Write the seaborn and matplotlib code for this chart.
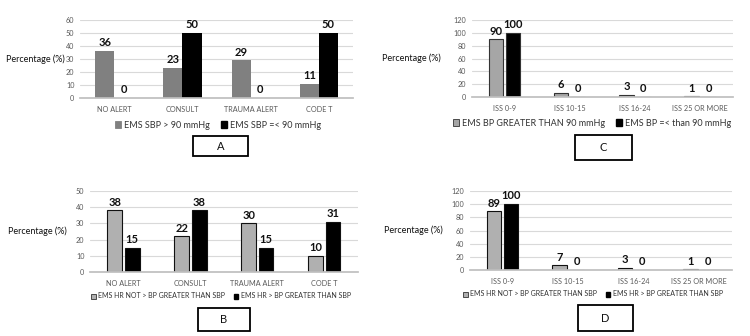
import matplotlib
matplotlib.use('Agg')
import matplotlib.pyplot as plt
from matplotlib.patches import Rectangle, Patch
import seaborn as sns
import pandas as pd

# panel A / B categories
alert_cats = ['NO ALERT', 'CONSULT', 'TRAUMA ALERT', 'CODE T']
# panel C / D categories
iss_cats = ['ISS 0-9', 'ISS 10-15', 'ISS 16-24', 'ISS 25 OR MORE']

a_high = [36, 23, 29, 11]
a_low = [0, 50, 0, 50]
a_names = ['EMS SBP > 90 mmHg', 'EMS SBP =< 90 mmHg']

c_high = [90, 6, 3, 1]
c_low = [100, 0, 0, 0]
c_names = ['EMS BP GREATER THAN 90 mmHg', 'EMS BP =< than 90 mmHg']

b_not = [38, 22, 30, 10]
b_yes = [15, 38, 15, 31]
b_names = ['EMS HR NOT > BP GREATER THAN SBP', 'EMS HR > BP GREATER THAN SBP']

d_not = [89, 7, 3, 1]
d_yes = [100, 0, 0, 0]
d_names = ['EMS HR NOT > BP GREATER THAN SBP', 'EMS HR > BP GREATER THAN SBP']

sns.set_theme(style='white')
plt.rcParams['font.family'] = ['Lato', 'DejaVu Sans']


def make_df(cats, s1, s2, names):
    return pd.DataFrame({
        'cat': cats * 2,
        'val': s1 + s2,
        'grp': [names[0]] * len(cats) + [names[1]] * len(cats),
    })


def panel(fig, rect, cats, s1, s2, names, ymax, step, gray, edge, lw,
          width, gap, ylab_x, leg_xy, leg_fs, box, letter):
    ax = fig.add_axes(rect)
    df = make_df(cats, s1, s2, names)
    sns.barplot(data=df, x='cat', y='val', hue='grp', order=cats,
                hue_order=names, palette=[gray, '#000000'], width=width,
                gap=gap, edgecolor=edge, linewidth=lw, legend=False, ax=ax)
    for cont in ax.containers:
        ax.bar_label(cont, fmt='%d', padding=2, fontsize=8,
                     fontweight='bold', color='#111111')
    ax.set_ylim(0, ymax)
    ax.set_yticks(range(0, ymax + 1, step))
    ax.yaxis.grid(True, color='#d9d9d9', linewidth=0.8)
    ax.set_axisbelow(True)
    for s in ['top', 'right', 'left']:
        ax.spines[s].set_visible(False)
    ax.spines['bottom'].set_color('#bfbfbf')
    ax.tick_params(axis='both', length=0, labelsize=5.2, colors='#595959')
    ax.tick_params(axis='x', pad=6)
    ax.tick_params(axis='y', pad=4)
    ax.set_xlabel('')
    ax.set_ylabel('Percentage (%)', rotation=0, ha='right', va='center',
                  fontsize=6.5, color='#111111')
    ax.yaxis.set_label_coords(ylab_x, 0.5)
    handles = [Patch(facecolor=gray, edgecolor='#333333' if edge != 'none' else gray, linewidth=0.6),
               Patch(facecolor='#000000', edgecolor='#000000')]
    fig.legend(handles, names, loc='center', bbox_to_anchor=leg_xy, ncol=2,
               frameon=False, fontsize=leg_fs, handlelength=0.7,
               handleheight=0.7, handletextpad=0.3, columnspacing=1.2,
               labelcolor='#333333')
    x0, y0, x1, y1 = box
    W, H = 750, 336
    fig.add_artist(Rectangle((x0 / W, 1 - y1 / H), (x1 - x0) / W, (y1 - y0) / H,
                             transform=fig.transFigure, facecolor='white',
                             edgecolor='black', linewidth=1.3))
    fig.text((x0 + x1) / 2 / W, 1 - (y0 + y1) / 2 / H, letter, ha='center',
             va='center', fontsize=8, color='#111111')
    return ax


fig = plt.figure(figsize=(7.5, 3.36), dpi=100)

panel(fig, [0.1067, 0.7083, 0.364, 0.232], alert_cats, a_high, a_low, a_names,
      60, 10, '#808080', 'none', 0, 0.56, 0, -0.055, (218 / 750, 1 - 125 / 336),
      6.5, (193, 136, 248, 156), 'A')
panel(fig, [0.629, 0.7113, 0.348, 0.229], iss_cats, c_high, c_low, c_names,
      120, 20, '#a6a6a6', '#333333', 0.8, 0.52, 0.15, -0.12,
      (592 / 750, 1 - 123 / 336), 6.5, (575, 135, 632, 160), 'C')
panel(fig, [0.12, 0.1905, 0.357, 0.241], alert_cats, b_not, b_yes, b_names,
      50, 10, '#b0b0b0', '#111111', 0.8, 0.52, 0.15, -0.086,
      (221 / 750, 1 - 296 / 336), 5, (198, 308, 250, 331), 'B')
panel(fig, [0.6267, 0.1964, 0.349, 0.235], iss_cats, d_not, d_yes, d_names,
      120, 20, '#b0b0b0', '#111111', 0.8, 0.52, 0.15, -0.103,
      (593 / 750, 1 - 294 / 336), 5, (578, 305, 633, 331), 'D')

fig.savefig('out.png', dpi=100, facecolor='white')
